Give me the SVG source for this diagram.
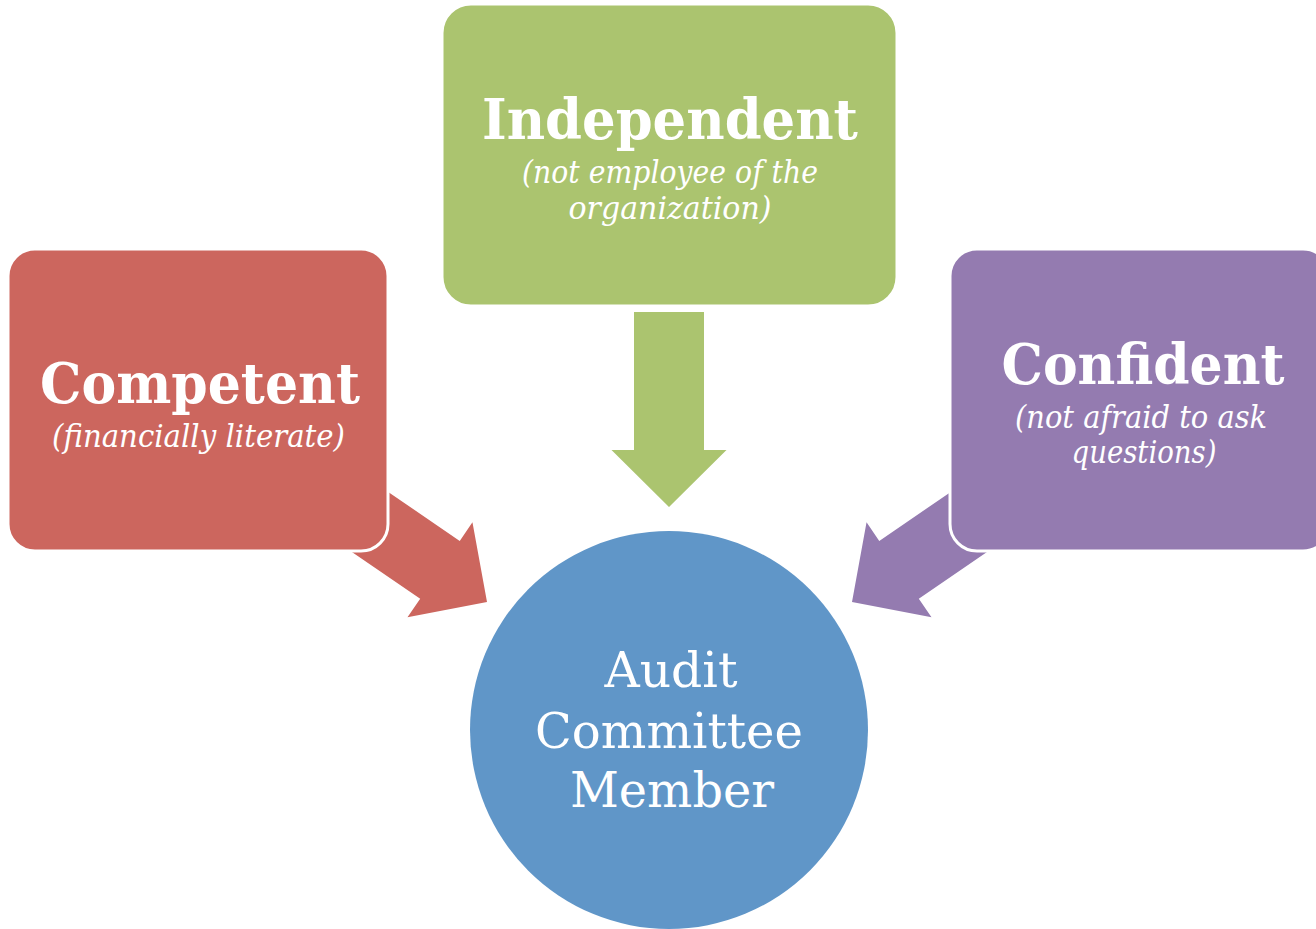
<svg xmlns="http://www.w3.org/2000/svg" width="1316" height="929" viewBox="0 0 1316 929">
  <style>
    .box { stroke: #ffffff; stroke-width: 3; }
    .title { font-family: "DejaVu Serif", "Liberation Serif", serif; font-weight: bold; font-size: 56px; fill: #ffffff; text-anchor: middle; }
    .sub { font-family: "DejaVu Serif", "Liberation Serif", serif; font-style: italic; font-size: 32px; fill: #ffffff; text-anchor: middle; }
    .hub { font-family: "DejaVu Serif", "Liberation Serif", serif; font-size: 48px; fill: #ffffff; text-anchor: middle; }
  </style>
  <defs>
    <!-- block arrow pointing along +x, tip at origin -->
    <polygon id="block-arrow" points="-200,-35 -57,-35 -57,-57.5 0,0 -57,57.5 -57,35 -200,35"/>
    <polygon id="block-arrow-short" points="-195,-35 -57,-35 -57,-57.5 0,0 -57,57.5 -57,35 -195,35"/>
  </defs>

  <rect width="1316" height="929" fill="#ffffff"/>

  <g id="connectors">
    <use href="#block-arrow-short" fill="#ABC46F" transform="translate(669,507) rotate(90)"/>
    <use href="#block-arrow" fill="#CC665E" transform="translate(487,602) rotate(34.4)"/>
    <use href="#block-arrow" fill="#947BB0" transform="translate(852,602) rotate(145.6)"/>
  </g>

  <g id="node-independent">
    <rect class="box" x="442" y="4" width="455" height="302" rx="29" fill="#ABC46F"/>
    <text class="title" x="670" y="139" textLength="376" lengthAdjust="spacingAndGlyphs">Independent</text>
    <text class="sub" x="670" y="183" textLength="296" lengthAdjust="spacingAndGlyphs">(not employee of the</text>
    <text class="sub" x="670" y="219" textLength="203" lengthAdjust="spacingAndGlyphs">organization)</text>
  </g>

  <g id="node-competent">
    <rect class="box" x="8" y="249" width="380" height="302" rx="27" fill="#CC665E"/>
    <text class="title" x="200" y="403" textLength="320" lengthAdjust="spacingAndGlyphs">Competent</text>
    <text class="sub" x="198.5" y="447" textLength="293" lengthAdjust="spacingAndGlyphs">(financially literate)</text>
  </g>

  <g id="node-confident">
    <rect class="box" x="950" y="249" width="380" height="302" rx="27" fill="#947BB0"/>
    <text class="title" x="1143" y="384" textLength="283" lengthAdjust="spacingAndGlyphs">Confident</text>
    <text class="sub" x="1141" y="428" textLength="252" lengthAdjust="spacingAndGlyphs">(not afraid to ask</text>
    <text class="sub" x="1144" y="463" textLength="145" lengthAdjust="spacingAndGlyphs">questions)</text>
  </g>

  <g id="node-member">
    <circle cx="669" cy="730" r="199" fill="#6096C8"/>
    <text class="hub" x="671" y="687" textLength="133" lengthAdjust="spacingAndGlyphs">Audit</text>
    <text class="hub" x="669" y="748" textLength="268" lengthAdjust="spacingAndGlyphs">Committee</text>
    <text class="hub" x="672" y="807" textLength="204" lengthAdjust="spacingAndGlyphs">Member</text>
  </g>
</svg>
